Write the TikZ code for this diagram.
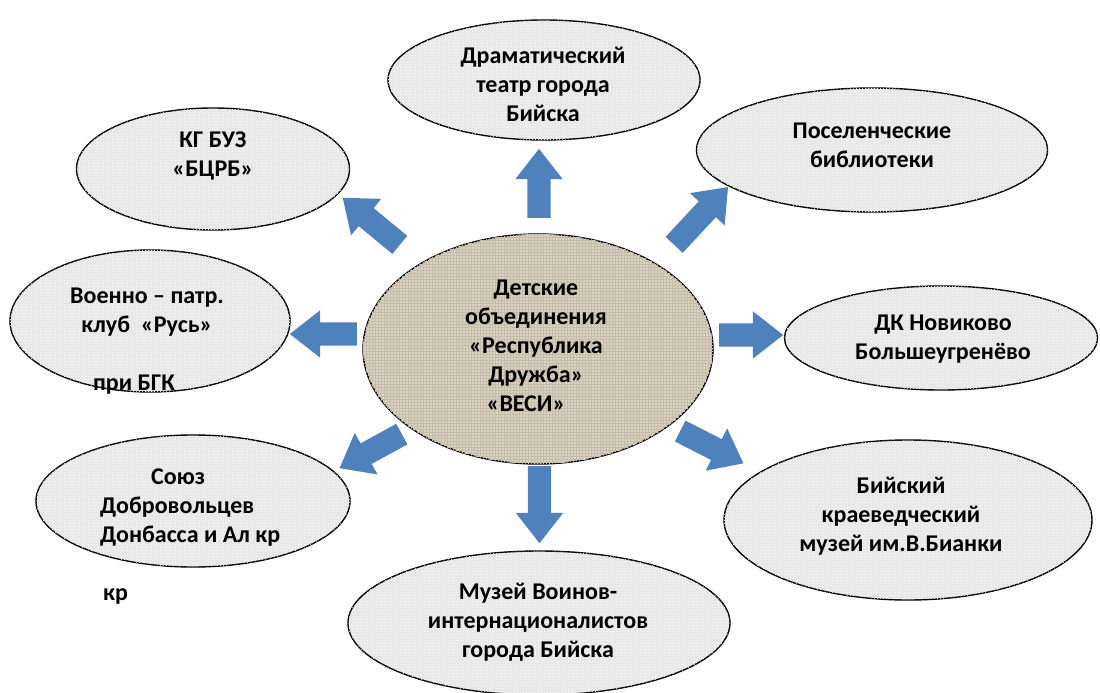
\documentclass[tikz,border=0pt]{standalone}
\usepackage{fontspec}
\setmainfont{Carlito}
\usetikzlibrary{shapes.geometric,shapes.arrows,patterns}
\definecolor{arrowblue}{HTML}{4F81BD}
\definecolor{stone}{HTML}{E6E6E6}
\definecolor{linen}{HTML}{DBD1BF}

\begin{document}
\begin{tikzpicture}[x=1pt,y=-1pt,
    org/.style={ellipse,draw=black,line width=1.4pt,fill=stone,
      postaction={pattern=crosshatch dots,pattern color=white}},
    hub/.style={ellipse,draw=black,line width=1.4pt,fill=linen,
      postaction={pattern=grid,pattern color=linen!90!black}},
    txt/.style={align=center,font=\bfseries\fontsize{24}{29}\selectfont,inner sep=0pt},
    blockarrow/.style={single arrow,fill=arrowblue,draw=none,inner sep=0pt,anchor=tail,
      text height=11.5pt,text depth=11.5pt,text width=0pt,minimum width=47pt,
      single arrow head extend=12pt,single arrow head indent=0pt,single arrow tip angle=76}]
  \useasboundingbox (0,0) rectangle (1100,693);
  \node[hub,minimum width=350pt,minimum height=230pt] (vesi) at (538,349) {};
  \node[org,minimum width=312pt,minimum height=120pt] (theatre) at (544,80) {};
  \node[org,minimum width=273pt,minimum height=122pt] (hospital) at (213,169) {};
  \node[org,minimum width=351pt,minimum height=124pt] (library) at (872,150) {};
  \node[org,minimum width=280pt,minimum height=142pt] (club) at (150,321) {};
  \node[org,minimum width=313pt,minimum height=104pt] (dk) at (941,338) {};
  \node[org,minimum width=314pt,minimum height=132pt] (union) at (193,501) {};
  \node[org,minimum width=368pt,minimum height=160pt] (krai) at (908,520) {};
  \node[org,minimum width=382pt,minimum height=144pt] (warmuseum) at (539,623) {};

  \node[txt] (vesi-t) at (536,345.5) {Детские\\объединения\\«Республика\\Дружба»\\«ВЕСИ»\hspace*{20pt}};
  \node[txt] (theatre-t) at (543,84) {Драматический\\театр города\\Бийска};
  \node[txt] (hospital-t) at (213,156) {КГ БУЗ\\«БЦРБ»};
  \node[txt] (library-t) at (872,145.5) {Поселенческие\\библиотеки};
  \node[txt] (club-t) at (147,341.5) {Военно – патр.\\клуб~~«Русь»\\[29pt]при БГК\hspace*{26pt}};
  \node[txt] (dk-t) at (943,339.5) {ДК Новиково\\Большеугренёво};
  \node[txt,align=left,anchor=west] (union-t) at (100,537) {\hspace*{51pt}Союз\\Добровольцев\\Донбасса и Ал кр\\[29pt]\hspace*{3pt}кр};
  \node[txt] (krai-t) at (901,516) {Бийский\\краеведческий\\музей им.В.Бианки};
  \node[txt] (warmuseum-t) at (538,622.5) {Музей Воинов-\\интернационалистов\\города Бийска};

  \node[blockarrow,minimum height=69pt,rotate=90] (a-theatre) at (539,218) {};
  \node[blockarrow,minimum height=79pt,rotate=47] (a-library) at (674,245) {};
  \node[blockarrow,minimum height=64pt,rotate=0] (a-dk) at (719,335) {};
  \node[blockarrow,minimum height=71pt,rotate=-27] (a-krai) at (680,431) {};
  \node[blockarrow,minimum height=77pt,rotate=270] (a-warmuseum) at (539.5,466) {};
  \node[blockarrow,minimum height=71pt,rotate=208.7] (a-union) at (402,434) {};
  \node[blockarrow,minimum height=67pt,rotate=180] (a-club) at (357,334) {};
  \node[blockarrow,minimum height=74pt,rotate=140.5] (a-hospital) at (400,245) {};
\end{tikzpicture}
\end{document}
